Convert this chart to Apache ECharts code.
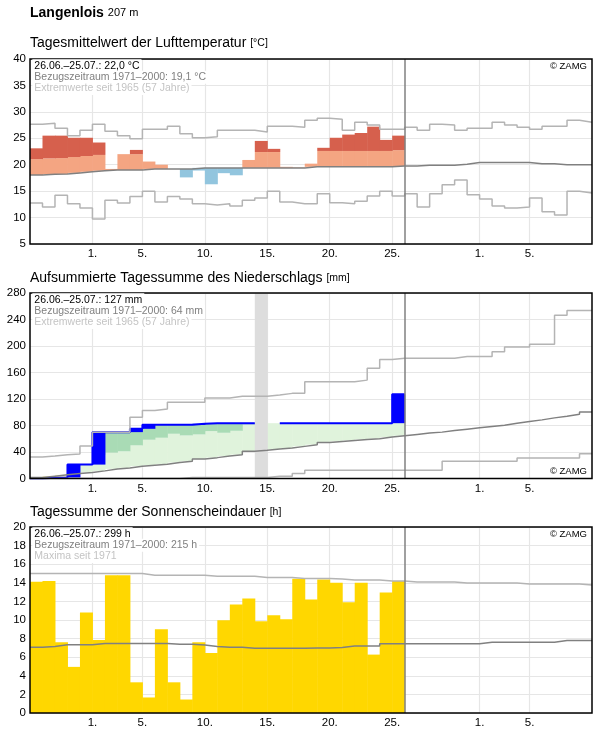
<!DOCTYPE html>
<html>
<head>
<meta charset="utf-8">
<script src="https://cdn.jsdelivr.net/npm/echarts@6/dist/echarts.min.js"></script>
<style>
  html, body { margin: 0; padding: 0; background: #fff; }
  #chart { width: 596px; height: 729px; }
</style>
</head>
<body>
<div id="chart"></div>
<script>
// x axis: days since 26.06., day i covers [i, i+1]
const tickDays = [5, 9, 14, 19, 24, 29, 36, 40]
const tickLabels = ['1.', '5.', '10.', '15.', '20.', '25.', '1.', '5.']
const lastDay = 30

// Lufttemperatur (°C)
const tempObs = [23.1, 25.5, 25.5, 25.1, 25.1, 24.2, 19.2, 22.0, 22.8, 20.6, 20.0, 19.2, 17.6, 18.9, 16.3, 18.4, 18.0, 20.9, 24.5, 23.0, 19.6, 19.5, 20.2, 23.2, 25.1, 25.7, 26.0, 27.2, 24.7, 25.5]
const tempMean = [18.05, 18.2, 18.25, 18.45, 18.65, 18.85, 19.0, 19.0, 19.0, 19.2, 19.2, 19.2, 19.2, 19.4, 19.4, 19.4, 19.4, 19.4, 19.4, 19.4, 19.4, 19.4, 19.6, 19.6, 19.6, 19.6, 19.6, 19.6, 19.6, 19.75, 19.75, 19.9, 19.9, 19.9, 20.1, 20.4, 20.4, 20.4, 20.4, 20.4, 20.2, 20.2, 20.0, 20.0, 20.0]
const tempMax = [27.67, 27.86, 26.9, 25.5, 26.5, 27.67, 26.35, 25.5, 24.9, 26.7, 26.7, 27.3, 25.85, 25.1, 25.3, 26.5, 26.5, 26.5, 26.2, 27.3, 27.3, 27.1, 28.4, 28.8, 28.6, 26.5, 28.05, 27.5, 26.7, 26.7, 27.1, 26.5, 27.67, 27.5, 26.5, 26.9, 26.9, 28.05, 27.5, 27.1, 26.7, 27.3, 27.3, 28.4, 28.05]
const tempMin = [12.77, 12.0, 14.2, 12.6, 11.8, 9.75, 13.3, 12.77, 14.0, 15.0, 12.95, 14.0, 13.5, 12.6, 12.4, 12.6, 12.2, 13.3, 13.7, 15.0, 12.95, 12.6, 12.6, 14.5, 12.8, 12.6, 13.1, 14.1, 15.0, 14.1, 14.5, 12.0, 14.5, 16.2, 17.1, 14.3, 13.5, 12.2, 11.8, 12.0, 13.7, 11.1, 10.5, 15.0, 14.65]

// Niederschlag, aufsummiert (mm)
const precipCum = [0, 1, 1.5, 21, 21, 70, 70, 70, 75, 81, 81, 81, 81, 82.5, 83.5, 83.5, 83.5, 83.5, 83.5, 83.5, 83.5, 83.5, 83.5, 83.5, 83.5, 83.5, 83.5, 83.5, 83.5, 127]
const precipNormTop = [8, 12, 16, 22, 25, 36, 39, 41, 50, 58.5, 61.5, 67.5, 65, 66.5, 71.5, 69, 72, 81.5, 84, 85, 86, 87, 88, 89, 90, 91, 92, 93, 94, 96]
const precipMean = [1.5, 3.5, 5.5, 7.5, 9, 11.5, 14.5, 16, 18.5, 20, 21.5, 24, 26, 29.5, 31.5, 34, 36, 41, 42.5, 44.5, 46, 48.5, 51, 54.5, 56, 57.5, 59, 60, 62.5, 64.5, 66.5, 68.5, 70, 72.5, 74.5, 76.5, 78.5, 80.5, 83.5, 86, 88.5, 91.5, 94, 97, 100.5]
const precipMax = [32.5, 34, 36, 37, 49, 70, 70, 70, 92.5, 102.5, 105, 115, 115, 115, 121.5, 121.5, 124, 124, 124, 126, 128.5, 128.5, 146, 146, 146, 146, 148.5, 166.5, 179.5, 181.5, 181.5, 181.5, 181.5, 181.5, 184, 184, 184, 191.5, 198.5, 198.5, 202.5, 202.5, 246.5, 253.5, 253.5]
const precipMin = [0, 0, 0, 0, 0, 0, 0, 0, 0, 0, 0, 0, 1.5, 1.5, 1.5, 1.5, 1.5, 1.5, 1.5, 3.5, 3.5, 7.5, 12.5, 12.5, 12.5, 12.5, 12.5, 12.5, 12.5, 12.5, 12.5, 12.5, 12.5, 26, 26, 26, 26, 26, 26, 31, 31, 31, 31, 31, 37.5]
const precipMissing = [18]
const precipLineGap = [18, 19]

// Sonnenscheindauer (h)
const sun = [14.1, 14.2, 7.6, 4.96, 10.8, 7.84, 14.8, 14.8, 3.3, 1.67, 9.0, 3.3, 1.45, 7.6, 6.45, 9.96, 11.67, 12.3, 9.86, 10.5, 10.07, 14.44, 12.2, 14.36, 14.0, 11.9, 14.0, 6.28, 12.95, 14.2]
const sunMax = [15.0, 15.0, 15.0, 15.0, 15.0, 15.0, 15.0, 15.0, 15.0, 14.8, 14.8, 14.8, 14.8, 14.8, 14.7, 14.7, 14.7, 14.7, 14.57, 14.57, 14.57, 14.47, 14.47, 14.47, 14.4, 14.3, 14.3, 14.3, 14.2, 14.2, 14.08, 14.08, 14.08, 14.08, 13.97, 13.97, 13.97, 13.97, 13.97, 13.87, 13.87, 13.87, 13.87, 13.87, 13.77]
const sunMean = [7.06, 7.16, 7.34, 7.34, 7.34, 7.48, 7.48, 7.48, 7.48, 7.48, 7.48, 7.38, 7.38, 7.3, 7.16, 7.06, 7.06, 6.95, 6.95, 6.95, 6.95, 6.95, 7.0, 7.0, 7.05, 7.2, 7.2, 7.2, 7.45, 7.45, 7.45, 7.45, 7.45, 7.45, 7.45, 7.45, 7.62, 7.62, 7.62, 7.62, 7.62, 7.62, 7.8, 7.8, 7.8]

const font = '"Liberation Sans", Arial, sans-serif'
const lightGray = '#b4b4b4'
const darkGray = '#808080'

const chart = echarts.init(document.getElementById('chart'))

// flat segment for every day
function steps (arr) {
  const out = []
  arr.forEach((v, i) => {
    if (v == null) {
      out.push([i, '-'])
      return
    }
    out.push([i, v], [i + 1, v])
  })
  return out
}

function rectSeries (data, color, gi, z) {
  return {
    type: 'custom',
    xAxisIndex: gi,
    yAxisIndex: gi,
    z: z || 2,
    silent: true,
    encode: { x: 0, y: [1, 2] },
    data: data,
    renderItem (params, api) {
      const a = api.coord([api.value(0), api.value(1)])
      const b = api.coord([api.value(0) + 1, api.value(2)])
      return {
        type: 'rect',
        shape: { x: a[0], y: b[1], width: b[0] - a[0] + 0.5, height: a[1] - b[1] },
        style: { fill: color }
      }
    }
  }
}

function stepLine (arr, color, gi, width, extra) {
  return Object.assign({
    type: 'line',
    xAxisIndex: gi,
    yAxisIndex: gi,
    data: steps(arr),
    symbol: 'none',
    silent: true,
    z: 4,
    lineStyle: { color: color, width: width || 1.5 }
  }, extra)
}

const endLine = {
  silent: true,
  symbol: 'none',
  label: { show: false },
  lineStyle: { color: darkGray, width: 1.5, type: 'solid' },
  data: [{ xAxis: lastDay }]
}

// temperature bars from the climate mean
const warmLow = []
const warmHigh = []
const cold = []
tempObs.forEach((v, i) => {
  const m = tempMean[i]
  if (v > m) {
    warmLow.push([i, m, Math.min(v, m + 3)])
    if (v > m + 3) warmHigh.push([i, m + 3, v])
  } else if (v < m) {
    cold.push([i, v, m])
  }
})

// precipitation fills
const greenLight = []
const greenDark = []
const dry = []
const increments = []
precipCum.forEach((v, i) => {
  const m = precipMean[i]
  const top = precipNormTop[i]
  const prev = i ? precipCum[i - 1] : 0
  if (v >= m) {
    greenLight.push([i, m, Math.min(v, top)])
    if (v > top) greenDark.push([i, top, v])
  } else {
    dry.push([i, v, m])
  }
  if (v > prev) increments.push([i, prev, v])
})
const precipLine = precipCum.map((v, i) => precipLineGap.includes(i) ? null : v)
const missing = precipMissing.map(d => [d, 0, 280])

const sunBars = sun.map((v, i) => [i, 0, v])

const tops = [59, 293, 527]
const heights = [185, 185.5, 186]

function xAx (gi) {
  return {
    type: 'value',
    gridIndex: gi,
    min: 0,
    max: 45,
    axisLine: { show: false },
    axisTick: { show: false, customValues: tickDays },
    axisLabel: {
      customValues: tickDays,
      formatter: v => tickLabels[tickDays.indexOf(v)],
      color: '#000',
      fontSize: 11.5,
      fontFamily: font,
      margin: 4
    },
    splitLine: { show: true, lineStyle: { color: '#e6e6e6', width: 1.2 } }
  }
}

function yAx (gi, min, max, interval) {
  return {
    type: 'value',
    gridIndex: gi,
    min: min,
    max: max,
    interval: interval,
    axisLine: { show: false },
    axisTick: { show: false },
    axisLabel: { color: '#000', fontSize: 11.5, fontFamily: font, margin: 4 },
    splitLine: { lineStyle: { color: '#e6e6e6', width: 1.2 } }
  }
}

function txt (x, y, text, size, color, extra) {
  return {
    type: 'text',
    x: x,
    y: y,
    z: 50,
    silent: true,
    style: Object.assign({
      text: text,
      fill: color,
      font: size + 'px ' + font,
      verticalAlign: 'middle'
    }, extra)
  }
}

function titleRich (y, main, unit) {
  return {
    type: 'text',
    x: 30,
    y: y,
    z: 50,
    silent: true,
    style: {
      text: '{t|' + main + '} {u|' + unit + '}',
      font: '14px ' + font,
      verticalAlign: 'middle',
      rich: {
        t: { fontSize: 14, fontFamily: font, fill: '#000' },
        u: { fontSize: 10.5, fontFamily: font, fill: '#000' }
      }
    }
  }
}

// info lines sit on a white box, like in the original
const infoBox = { backgroundColor: '#fff', padding: [1, 2, 1, 2] }
const markBox = { align: 'right', backgroundColor: '#fff', padding: [0, 2, 0, 2] }

function infoLines (top, l1, l2, l3) {
  return [
    txt(32.3, top + 6.7, l1, 10.5, '#000', infoBox),
    txt(32.3, top + 18.2, l2, 10.5, '#808080', infoBox),
    txt(32.3, top + 29.5, l3, 10.5, '#c4c4c4', infoBox)
  ]
}

const graphic = [
  {
    type: 'text',
    x: 30,
    y: 13.3,
    z: 50,
    silent: true,
    style: {
      text: '{a|Langenlois} {b|207 m}',
      font: 'bold 14px ' + font,
      verticalAlign: 'middle',
      rich: {
        a: { fontSize: 14, fontWeight: 'bold', fontFamily: font, fill: '#000' },
        b: { fontSize: 11, fontFamily: font, fill: '#000' }
      }
    }
  },
  titleRich(43.3, 'Tagesmittelwert der Lufttemperatur', '[°C]'),
  titleRich(278.5, 'Aufsummierte Tagessumme des Niederschlags', '[mm]'),
  titleRich(512.3, 'Tagessumme der Sonnenscheindauer', '[h]'),
  ...infoLines(tops[0], '26.06.–25.07.: 22,0 °C', 'Bezugszeitraum 1971–2000: 19,1 °C', 'Extremwerte seit 1965 (57 Jahre)'),
  ...infoLines(tops[1], '26.06.–25.07.: 127 mm', 'Bezugszeitraum 1971–2000: 64 mm', 'Extremwerte seit 1965 (57 Jahre)'),
  ...infoLines(tops[2], '26.06.–25.07.: 299 h', 'Bezugszeitraum 1971–2000: 215 h', 'Maxima seit 1971'),
  txt(589, 66, '© ZAMG', 9.5, '#000', markBox),
  txt(589, 471.5, '© ZAMG', 9.5, '#000', markBox),
  txt(589, 534, '© ZAMG', 9.5, '#000', markBox)
]

const option = {
  animation: false,
  backgroundColor: '#fff',
  grid: tops.map((t, i) => ({
    left: 30,
    width: 562,
    top: t,
    height: heights[i],
    show: true,
    z: 10,
    borderColor: '#000',
    borderWidth: 1.5,
    backgroundColor: 'rgba(0,0,0,0)'
  })),
  xAxis: [xAx(0), xAx(1), xAx(2)],
  yAxis: [yAx(0, 5, 40, 5), yAx(1, 0, 280, 40), yAx(2, 0, 20, 2)],
  graphic: graphic,
  series: [
    rectSeries(warmLow, '#f4a582', 0),
    rectSeries(warmHigh, '#d6604d', 0),
    rectSeries(cold, '#92c5de', 0),
    stepLine(tempMax, lightGray, 0, 1.5, { markLine: endLine }),
    stepLine(tempMin, lightGray, 0),
    stepLine(tempMean, darkGray, 0),

    rectSeries(greenLight, '#e0f3dc', 1),
    rectSeries(greenDark, '#a9dbb5', 1),
    rectSeries(dry, '#fbf3c4', 1),
    rectSeries(missing, '#dddddd', 1, 3),
    rectSeries(increments, '#0000ff', 1, 3),
    stepLine(precipLine, '#0000ff', 1, 2),
    stepLine(precipMax, lightGray, 1, 1.5, { markLine: endLine }),
    stepLine(precipMin, lightGray, 1),
    stepLine(precipMean, darkGray, 1),

    rectSeries(sunBars, '#ffd700', 2),
    stepLine(sunMax, lightGray, 2, 1.5, { markLine: endLine }),
    stepLine(sunMean, darkGray, 2)
  ]
}

chart.setOption(option)
</script>
</body>
</html>
